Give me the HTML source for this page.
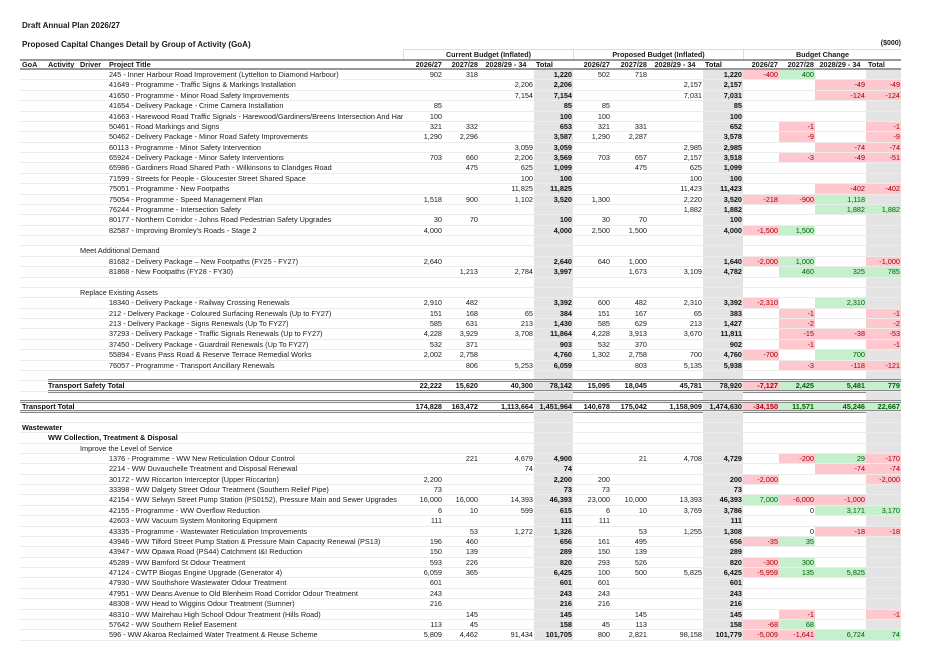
<!DOCTYPE html>
<html><head><meta charset="utf-8"><style>
body{margin:0;width:934px;height:661px;background:#fff;font-family:"Liberation Sans",sans-serif;color:#1a1a1a;position:relative;overflow:hidden}
.abs{position:absolute;white-space:nowrap}
.h1{font-size:8px;font-weight:bold;left:22px;top:21px}
.h2{font-size:8px;font-weight:bold;left:22px;top:40px}
.unit{font-size:7px;font-weight:bold;right:33px;top:40px}
.grp{position:absolute;top:49px;height:10px;border-top:1px solid #ddd;border-left:1px solid #ddd;font-size:7.2px;font-weight:bold;text-align:center;line-height:10px;box-sizing:border-box}
#t{position:absolute;left:20px;top:59px;width:881px}
.row{display:grid;grid-template-columns:383px 40px 36px 55px 39px 38px 37px 55px 40px 36px 36px 51px 35px;height:10.39px;border-bottom:1px solid #ececec;box-sizing:border-box;font-size:7.3px;line-height:9.4px;position:relative}
.row>span{overflow:hidden;white-space:nowrap;text-align:right;padding-right:1px}
.row>span:first-child{text-align:left;padding-left:89px}
.row>span:nth-child(5),.row>span:nth-child(9),.row>span:nth-child(13){background:#e4e4e4}
.row>span:nth-child(5),.row>span:nth-child(9){font-weight:bold;color:#111}
.row>span.r{background:#ffc7ce;color:#9c0006}
.row>span.g{background:#c6efce;color:#006100}
.hd{border-top:2px solid #999;border-bottom:2px solid #999;height:11px;font-weight:bold;line-height:8px}
.hd>span:nth-child(5),.hd>span:nth-child(9),.hd>span:nth-child(13){background:none;text-align:left;padding-left:2px}
.hd>span:first-child{padding-left:0}
.hd i{font-style:normal;display:inline-block}
.row>span.s0{padding-left:2px}
.row>span.s1{padding-left:60px}
.row>span.s2{padding-left:28px}
.b{font-weight:bold}
.b>span{color:#111}
.ln{position:absolute;top:-2px;bottom:-2px;right:0;border-top:3px double #888;border-bottom:3px double #888}
</style></head><body>
<div class="abs h1">Draft Annual Plan 2026/27</div>
<div class="abs h2">Proposed Capital Changes Detail by Group of Activity (GoA)</div>
<div class="abs unit">($000)</div>
<div class="grp" style="left:403px;width:170px">Current Budget (Inflated)</div>
<div class="grp" style="left:573px;width:170px">Proposed Budget (Inflated)</div>
<div class="grp" style="left:743px;width:158px">Budget Change</div>
<div id="t">
<div class="row hd"><span><i style="width:26px;padding-left:2px">GoA</i><i style="width:32px">Activity</i><i style="width:29px">Driver</i><i>Project Title</i></span><span>2026/27</span><span>2027/28</span><span style="text-align:center">2028/29 - 34</span><span>Total</span><span>2026/27</span><span>2027/28</span><span style="text-align:center">2028/29 - 34</span><span>Total</span><span>2026/27</span><span>2027/28</span><span style="text-align:center">2028/29 - 34</span><span>Total</span></div>
<div class="row"><span>245 - Inner Harbour Road Improvement (Lyttelton to Diamond Harbour)</span><span>902</span><span>318</span><span></span><span>1,220</span><span>502</span><span>718</span><span></span><span>1,220</span><span class="r">-400</span><span class="g">400</span><span></span><span></span></div>
<div class="row"><span>41649 - Programme - Traffic Signs &amp; Markings Installation</span><span></span><span></span><span>2,206</span><span>2,206</span><span></span><span></span><span>2,157</span><span>2,157</span><span></span><span></span><span class="r">-49</span><span class="r">-49</span></div>
<div class="row"><span>41650 - Programme - Minor Road Safety Improvements</span><span></span><span></span><span>7,154</span><span>7,154</span><span></span><span></span><span>7,031</span><span>7,031</span><span></span><span></span><span class="r">-124</span><span class="r">-124</span></div>
<div class="row"><span>41654 - Delivery Package - Crime Camera Installation</span><span>85</span><span></span><span></span><span>85</span><span>85</span><span></span><span></span><span>85</span><span></span><span></span><span></span><span></span></div>
<div class="row"><span>41663 - Harewood Road Traffic Signals - Harewood/Gardiners/Breens Intersection And Harewood</span><span>100</span><span></span><span></span><span>100</span><span>100</span><span></span><span></span><span>100</span><span></span><span></span><span></span><span></span></div>
<div class="row"><span>50461 - Road Markings and Signs</span><span>321</span><span>332</span><span></span><span>653</span><span>321</span><span>331</span><span></span><span>652</span><span></span><span class="r">-1</span><span></span><span class="r">-1</span></div>
<div class="row"><span>50462 - Delivery Package - Minor Road Safety Improvements</span><span>1,290</span><span>2,296</span><span></span><span>3,587</span><span>1,290</span><span>2,287</span><span></span><span>3,578</span><span></span><span class="r">-9</span><span></span><span class="r">-9</span></div>
<div class="row"><span>60113 - Programme - Minor Safety Intervention</span><span></span><span></span><span>3,059</span><span>3,059</span><span></span><span></span><span>2,985</span><span>2,985</span><span></span><span></span><span class="r">-74</span><span class="r">-74</span></div>
<div class="row"><span>65924 - Delivery Package - Minor Safety Interventions</span><span>703</span><span>660</span><span>2,206</span><span>3,569</span><span>703</span><span>657</span><span>2,157</span><span>3,518</span><span></span><span class="r">-3</span><span class="r">-49</span><span class="r">-51</span></div>
<div class="row"><span>65986 - Gardiners Road Shared Path - Wilkinsons to Clandges Road</span><span></span><span>475</span><span>625</span><span>1,099</span><span></span><span>475</span><span>625</span><span>1,099</span><span></span><span></span><span></span><span></span></div>
<div class="row"><span>71599 - Streets for People - Gloucester Street Shared Space</span><span></span><span></span><span>100</span><span>100</span><span></span><span></span><span>100</span><span>100</span><span></span><span></span><span></span><span></span></div>
<div class="row"><span>75051 - Programme - New Footpaths</span><span></span><span></span><span>11,825</span><span>11,825</span><span></span><span></span><span>11,423</span><span>11,423</span><span></span><span></span><span class="r">-402</span><span class="r">-402</span></div>
<div class="row"><span>75054 - Programme - Speed Management Plan</span><span>1,518</span><span>900</span><span>1,102</span><span>3,520</span><span>1,300</span><span></span><span>2,220</span><span>3,520</span><span class="r">-218</span><span class="r">-900</span><span class="g">1,118</span><span></span></div>
<div class="row"><span>76244 - Programme - Intersection Safety</span><span></span><span></span><span></span><span></span><span></span><span></span><span>1,882</span><span>1,882</span><span></span><span></span><span class="g">1,882</span><span class="g">1,882</span></div>
<div class="row"><span>80177 - Northern Corridor - Johns Road Pedestrian Safety Upgrades</span><span>30</span><span>70</span><span></span><span>100</span><span>30</span><span>70</span><span></span><span>100</span><span></span><span></span><span></span><span></span></div>
<div class="row"><span>82587 - Improving Bromley's Roads - Stage 2</span><span>4,000</span><span></span><span></span><span>4,000</span><span>2,500</span><span>1,500</span><span></span><span>4,000</span><span class="r">-1,500</span><span class="g">1,500</span><span></span><span></span></div>
<div class="row"><span></span><span></span><span></span><span></span><span></span><span></span><span></span><span></span><span></span><span></span><span></span><span></span><span></span></div>
<div class="row"><span class="s1">Meet Additional Demand</span><span></span><span></span><span></span><span></span><span></span><span></span><span></span><span></span><span></span><span></span><span></span><span></span></div>
<div class="row"><span>81682 - Delivery Package – New Footpaths (FY25 - FY27)</span><span>2,640</span><span></span><span></span><span>2,640</span><span>640</span><span>1,000</span><span></span><span>1,640</span><span class="r">-2,000</span><span class="g">1,000</span><span></span><span class="r">-1,000</span></div>
<div class="row"><span>81868 - New Footpaths (FY28 - FY30)</span><span></span><span>1,213</span><span>2,784</span><span>3,997</span><span></span><span>1,673</span><span>3,109</span><span>4,782</span><span></span><span class="g">460</span><span class="g">325</span><span class="g">785</span></div>
<div class="row"><span></span><span></span><span></span><span></span><span></span><span></span><span></span><span></span><span></span><span></span><span></span><span></span><span></span></div>
<div class="row"><span class="s1">Replace Existing Assets</span><span></span><span></span><span></span><span></span><span></span><span></span><span></span><span></span><span></span><span></span><span></span><span></span></div>
<div class="row"><span>18340 - Delivery Package - Railway Crossing Renewals</span><span>2,910</span><span>482</span><span></span><span>3,392</span><span>600</span><span>482</span><span>2,310</span><span>3,392</span><span class="r">-2,310</span><span></span><span class="g">2,310</span><span></span></div>
<div class="row"><span>212 - Delivery Package - Coloured Surfacing Renewals (Up to FY27)</span><span>151</span><span>168</span><span>65</span><span>384</span><span>151</span><span>167</span><span>65</span><span>383</span><span></span><span class="r">-1</span><span></span><span class="r">-1</span></div>
<div class="row"><span>213 - Delivery Package - Signs Renewals (Up To FY27)</span><span>585</span><span>631</span><span>213</span><span>1,430</span><span>585</span><span>629</span><span>213</span><span>1,427</span><span></span><span class="r">-2</span><span></span><span class="r">-2</span></div>
<div class="row"><span>37293 - Delivery Package - Traffic Signals Renewals (Up to FY27)</span><span>4,228</span><span>3,929</span><span>3,708</span><span>11,864</span><span>4,228</span><span>3,913</span><span>3,670</span><span>11,811</span><span></span><span class="r">-15</span><span class="r">-38</span><span class="r">-53</span></div>
<div class="row"><span>37450 - Delivery Package - Guardrail Renewals (Up To FY27)</span><span>532</span><span>371</span><span></span><span>903</span><span>532</span><span>370</span><span></span><span>902</span><span></span><span class="r">-1</span><span></span><span class="r">-1</span></div>
<div class="row"><span>55894 - Evans Pass Road &amp; Reserve Terrace Remedial Works</span><span>2,002</span><span>2,758</span><span></span><span>4,760</span><span>1,302</span><span>2,758</span><span>700</span><span>4,760</span><span class="r">-700</span><span></span><span class="g">700</span><span></span></div>
<div class="row"><span>76057 - Programme - Transport Ancillary Renewals</span><span></span><span>806</span><span>5,253</span><span>6,059</span><span></span><span>803</span><span>5,135</span><span>5,938</span><span></span><span class="r">-3</span><span class="r">-118</span><span class="r">-121</span></div>
<div class="row"><span></span><span></span><span></span><span></span><span></span><span></span><span></span><span></span><span></span><span></span><span></span><span></span><span></span></div>
<div class="row b"><span class="s2">Transport Safety Total</span><span>22,222</span><span>15,620</span><span>40,300</span><span>78,142</span><span>15,095</span><span>18,045</span><span>45,781</span><span>78,920</span><span class="r">-7,127</span><span class="g">2,425</span><span class="g">5,481</span><span class="g">779</span><div class="ln" style="left:28px"></div></div>
<div class="row"><span></span><span></span><span></span><span></span><span></span><span></span><span></span><span></span><span></span><span></span><span></span><span></span><span></span></div>
<div class="row b"><span class="s0">Transport Total</span><span>174,828</span><span>163,472</span><span>1,113,664</span><span>1,451,964</span><span>140,678</span><span>175,042</span><span>1,158,909</span><span>1,474,630</span><span class="r">-34,150</span><span class="g">11,571</span><span class="g">45,246</span><span class="g">22,667</span><div class="ln" style="left:0"></div></div>
<div class="row"><span></span><span></span><span></span><span></span><span></span><span></span><span></span><span></span><span></span><span></span><span></span><span></span><span></span></div>
<div class="row b"><span class="s0">Wastewater</span><span></span><span></span><span></span><span></span><span></span><span></span><span></span><span></span><span></span><span></span><span></span><span></span></div>
<div class="row b"><span class="s2">WW Collection, Treatment &amp; Disposal</span><span></span><span></span><span></span><span></span><span></span><span></span><span></span><span></span><span></span><span></span><span></span><span></span></div>
<div class="row"><span class="s1">Improve the Level of Service</span><span></span><span></span><span></span><span></span><span></span><span></span><span></span><span></span><span></span><span></span><span></span><span></span></div>
<div class="row"><span>1376 - Programme - WW New Reticulation Odour Control</span><span></span><span>221</span><span>4,679</span><span>4,900</span><span></span><span>21</span><span>4,708</span><span>4,729</span><span></span><span class="r">-200</span><span class="g">29</span><span class="r">-170</span></div>
<div class="row"><span>2214 - WW Duvauchelle Treatment and Disposal Renewal</span><span></span><span></span><span>74</span><span>74</span><span></span><span></span><span></span><span></span><span></span><span></span><span class="r">-74</span><span class="r">-74</span></div>
<div class="row"><span>30172 - WW Riccarton Interceptor (Upper Riccarton)</span><span>2,200</span><span></span><span></span><span>2,200</span><span>200</span><span></span><span></span><span>200</span><span class="r">-2,000</span><span></span><span></span><span class="r">-2,000</span></div>
<div class="row"><span>33398 - WW Dalgety Street Odour Treatment (Southern Relief Pipe)</span><span>73</span><span></span><span></span><span>73</span><span>73</span><span></span><span></span><span>73</span><span></span><span></span><span></span><span></span></div>
<div class="row"><span>42154 - WW Selwyn Street Pump Station (PS0152), Pressure Main and Sewer Upgrades</span><span>16,000</span><span>16,000</span><span>14,393</span><span>46,393</span><span>23,000</span><span>10,000</span><span>13,393</span><span>46,393</span><span class="g">7,000</span><span class="r">-6,000</span><span class="r">-1,000</span><span></span></div>
<div class="row"><span>42155 - Programme - WW Overflow Reduction</span><span>6</span><span>10</span><span>599</span><span>615</span><span>6</span><span>10</span><span>3,769</span><span>3,786</span><span></span><span>0</span><span class="g">3,171</span><span class="g">3,170</span></div>
<div class="row"><span>42603 - WW Vacuum System Monitoring Equipment</span><span>111</span><span></span><span></span><span>111</span><span>111</span><span></span><span></span><span>111</span><span></span><span></span><span></span><span></span></div>
<div class="row"><span>43335 - Programme - Wastewater Reticulation Improvements</span><span></span><span>53</span><span>1,272</span><span>1,326</span><span></span><span>53</span><span>1,255</span><span>1,308</span><span></span><span>0</span><span class="r">-18</span><span class="r">-18</span></div>
<div class="row"><span>43946 - WW Tilford Street Pump Station &amp; Pressure Main Capacity Renewal (PS13)</span><span>196</span><span>460</span><span></span><span>656</span><span>161</span><span>495</span><span></span><span>656</span><span class="r">-35</span><span class="g">35</span><span></span><span></span></div>
<div class="row"><span>43947 - WW Opawa Road (PS44) Catchment I&amp;I Reduction</span><span>150</span><span>139</span><span></span><span>289</span><span>150</span><span>139</span><span></span><span>289</span><span></span><span></span><span></span><span></span></div>
<div class="row"><span>45289 - WW Bamford St Odour Treatment</span><span>593</span><span>226</span><span></span><span>820</span><span>293</span><span>526</span><span></span><span>820</span><span class="r">-300</span><span class="g">300</span><span></span><span></span></div>
<div class="row"><span>47124 - CWTP Biogas Engine Upgrade (Generator 4)</span><span>6,059</span><span>365</span><span></span><span>6,425</span><span>100</span><span>500</span><span>5,825</span><span>6,425</span><span class="r">-5,959</span><span class="g">135</span><span class="g">5,825</span><span></span></div>
<div class="row"><span>47930 - WW Southshore Wastewater Odour Treatment</span><span>601</span><span></span><span></span><span>601</span><span>601</span><span></span><span></span><span>601</span><span></span><span></span><span></span><span></span></div>
<div class="row"><span>47951 - WW Deans Avenue to Old Blenheim Road Corridor Odour Treatment</span><span>243</span><span></span><span></span><span>243</span><span>243</span><span></span><span></span><span>243</span><span></span><span></span><span></span><span></span></div>
<div class="row"><span>48308 - WW Head to Wiggins Odour Treatment (Sumner)</span><span>216</span><span></span><span></span><span>216</span><span>216</span><span></span><span></span><span>216</span><span></span><span></span><span></span><span></span></div>
<div class="row"><span>48310 - WW Mairehau High School Odour Treatment (Hills Road)</span><span></span><span>145</span><span></span><span>145</span><span></span><span>145</span><span></span><span>145</span><span></span><span class="r">-1</span><span></span><span class="r">-1</span></div>
<div class="row"><span>57642 - WW Southern Relief Easement</span><span>113</span><span>45</span><span></span><span>158</span><span>45</span><span>113</span><span></span><span>158</span><span class="r">-68</span><span class="g">68</span><span></span><span></span></div>
<div class="row"><span>596 - WW Akaroa Reclaimed Water Treatment &amp; Reuse Scheme</span><span>5,809</span><span>4,462</span><span>91,434</span><span>101,705</span><span>800</span><span>2,821</span><span>98,158</span><span>101,779</span><span class="r">-5,009</span><span class="r">-1,641</span><span class="g">6,724</span><span class="g">74</span></div>
</div>
</body></html>
